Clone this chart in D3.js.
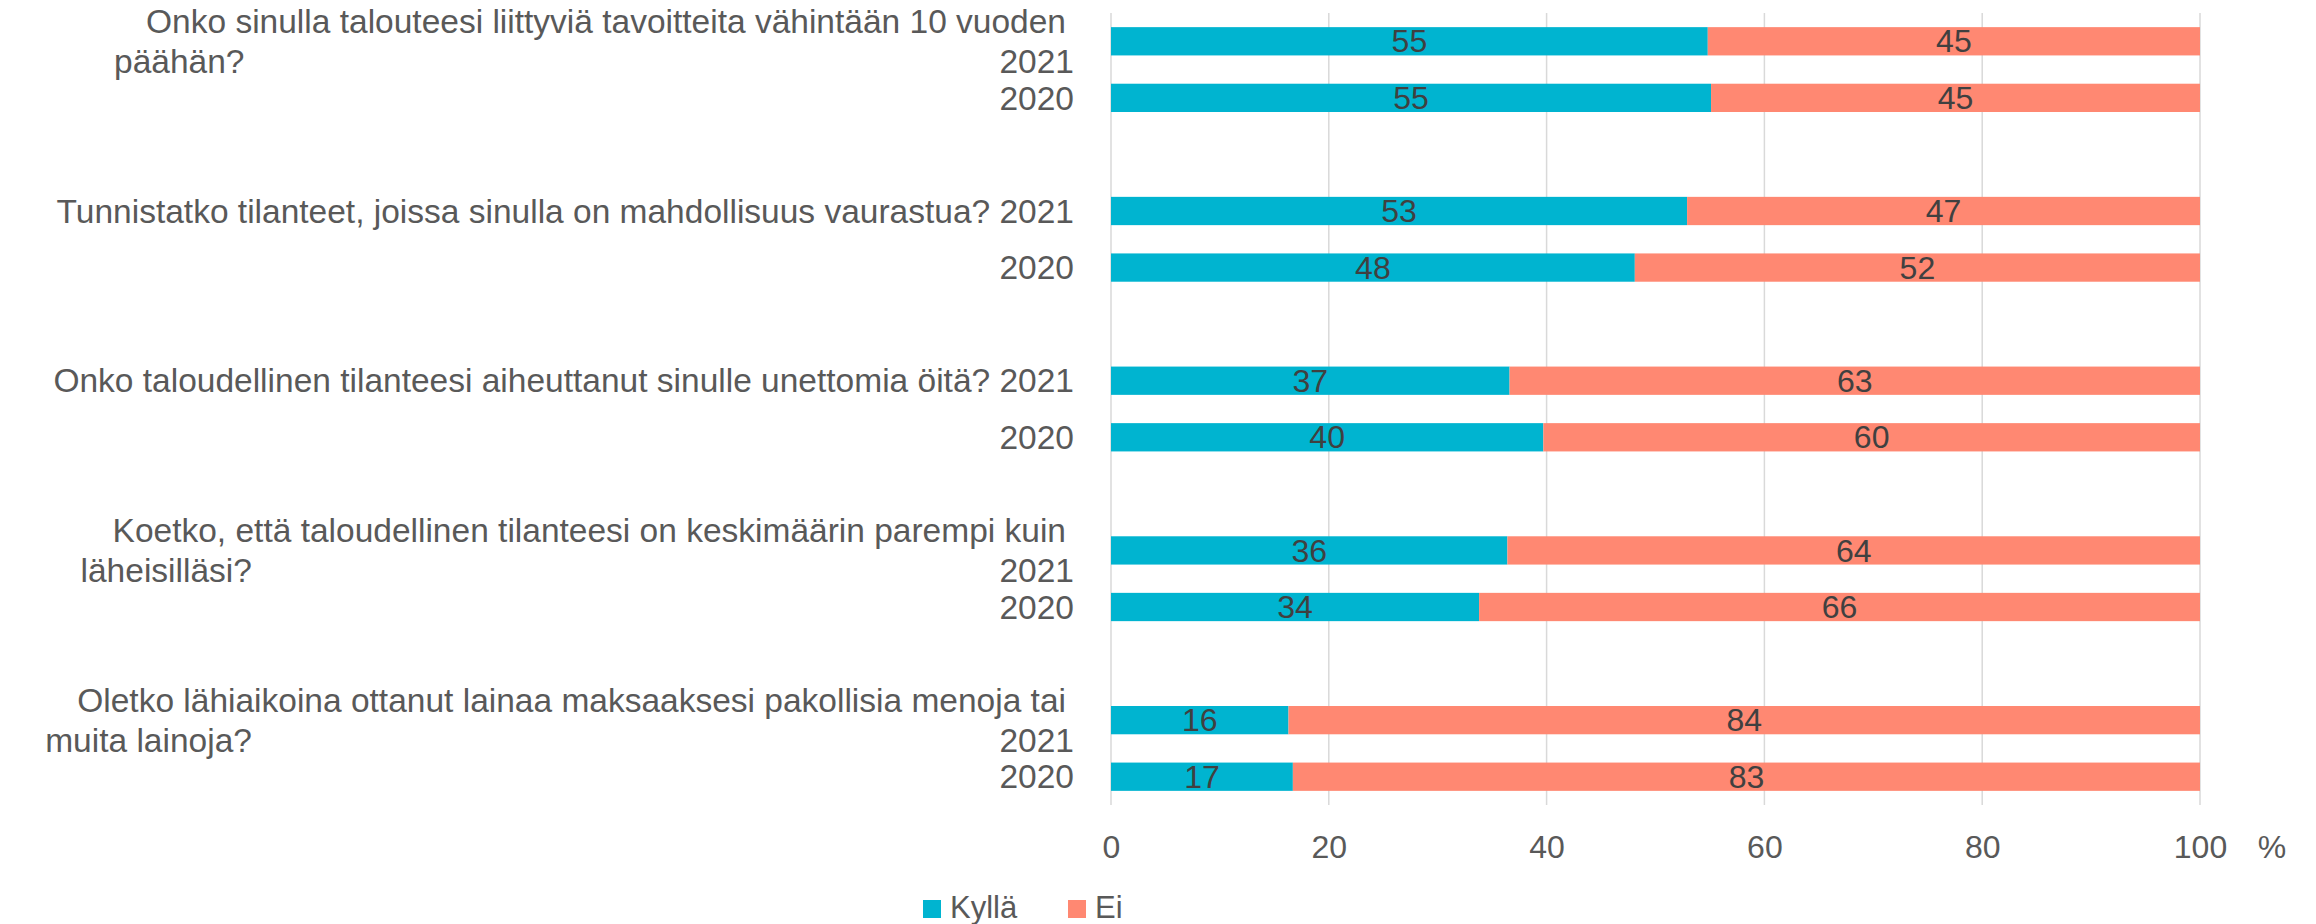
<!DOCTYPE html>
<html>
<head>
<meta charset="utf-8">
<script src="https://cdn.jsdelivr.net/npm/d3@7"></script>
<style>
  body { margin: 0; background: #fff; }
  svg text { font-family: "Liberation Sans", Arial, sans-serif; }
</style>
</head>
<body>
<svg id="chart" width="2316" height="924"></svg>
<script>
// questions, each split into the lines it wraps to
var questions = [
  ["Onko sinulla talouteesi liittyviä tavoitteita vähintään 10 vuoden", "päähän?"],
  ["Tunnistatko tilanteet, joissa sinulla on mahdollisuus vaurastua?"],
  ["Onko taloudellinen tilanteesi aiheuttanut sinulle unettomia öitä?"],
  ["Koetko, että taloudellinen tilanteesi on keskimäärin parempi kuin", "läheisilläsi?"],
  ["Oletko lähiaikoina ottanut lainaa maksaaksesi pakollisia menoja tai", "muita lainoja?"]
];
var years = ["2021", "2020"];
var series = ["Kyllä", "Ei"];

// % answers per question
var kylla2021 = [54.8, 52.9, 36.6, 36.4, 16.3];
var ei2021 = [45.2, 47.1, 63.4, 63.6, 83.7];
var kylla2020 = [55.1, 48.1, 39.7, 33.8, 16.7];
var ei2020 = [44.9, 51.9, 60.3, 66.2, 83.3];

var xTicks = [0, 20, 40, 60, 80, 100];

var colors = { "Kyllä": "#00b4d0", "Ei": "#ff8872" };
var textGray = "#595959";

var svg = d3.select("#chart");
var plotLeft = 1111, plotRight = 2200, plotTop = 13, plotBottom = 805;

// rows: 2021, 2020, gap ... (no gap after the last question)
var rows = [];
questions.forEach(function (q, i) {
  rows.push(i + "-2021", i + "-2020");
  if (i < questions.length - 1) rows.push(i + "-gap");
});

var y = d3.scaleBand().domain(rows).range([plotTop, plotBottom])
  .paddingInner(0.5).paddingOuter(0.25);
var x = d3.scaleLinear().domain([0, 100]).range([plotLeft, plotRight]);

// gridlines
svg.append("g")
  .selectAll("line")
  .data(xTicks)
  .enter().append("line")
  .attr("x1", function (d) { return x(d); })
  .attr("x2", function (d) { return x(d); })
  .attr("y1", plotTop).attr("y2", plotBottom)
  .attr("stroke", "#d9d9d9")
  .attr("stroke-width", 1.5);

// build rows of stacked data
var barData = [];
questions.forEach(function (q, i) {
  barData.push({ key: i + "-2021", values: [kylla2021[i], ei2021[i]] });
  barData.push({ key: i + "-2020", values: [kylla2020[i], ei2020[i]] });
});

var segs = [];
barData.forEach(function (row) {
  var acc = 0;
  row.values.forEach(function (v, j) {
    segs.push({ key: row.key, name: series[j], x0: acc, x1: acc + v, v: v });
    acc += v;
  });
});

var barG = svg.append("g");
barG.selectAll("rect")
  .data(segs)
  .enter().append("rect")
  .attr("x", function (d) { return x(d.x0); })
  .attr("width", function (d) { return x(d.x1) - x(d.x0); })
  .attr("y", function (d) { return y(d.key); })
  .attr("height", y.bandwidth())
  .attr("fill", function (d) { return colors[d.name]; });

barG.selectAll("text")
  .data(segs)
  .enter().append("text")
  .attr("x", function (d) { return (x(d.x0) + x(d.x1)) / 2; })
  .attr("y", function (d) { return y(d.key) + y.bandwidth() / 2; })
  .attr("dy", "0.35em")
  .attr("text-anchor", "middle")
  .attr("font-size", 32)
  .attr("fill", "#404040")
  .text(function (d) { return Math.round(d.v); });

// category labels
var labelRight = 1074;
var lab = svg.append("g").attr("font-size", 33.5).attr("fill", textGray);

questions.forEach(function (q, i) {
  var c21 = y(i + "-2021") + y.bandwidth() / 2;
  var c20 = y(i + "-2020") + y.bandwidth() / 2;
  if (q.length === 1) {
    lab.append("text")
      .attr("x", labelRight).attr("y", c21).attr("dy", "0.35em")
      .attr("text-anchor", "end")
      .text(q[0] + " " + years[0]);
  } else {
    var line1 = lab.append("text")
      .attr("x", labelRight - 8).attr("y", c21 - 19.8).attr("dy", "0.35em")
      .attr("text-anchor", "end")
      .text(q[0]);
    var w = line1.node().getComputedTextLength();
    lab.append("text")
      .attr("x", Math.max(28, labelRight - 8 - w - 32)).attr("y", c21 + 19.8).attr("dy", "0.35em")
      .text(q[1]);
    lab.append("text")
      .attr("x", labelRight).attr("y", c21 + 19.8).attr("dy", "0.35em")
      .attr("text-anchor", "end")
      .text(years[0]);
  }
  lab.append("text")
    .attr("x", labelRight).attr("y", c20).attr("dy", "0.35em")
    .attr("text-anchor", "end")
    .text(years[1]);
});

// x axis labels
var xAxis = d3.axisBottom(x).tickValues(xTicks).tickSize(0).tickPadding(0);
var ax = svg.append("g")
  .attr("transform", "translate(0," + 835 + ")")
  .call(xAxis);
ax.select(".domain").remove();
ax.selectAll("text")
  .attr("font-size", 32)
  .attr("font-family", "Liberation Sans, Arial, sans-serif")
  .attr("fill", textGray)
  .attr("dy", "0.71em");

svg.append("text")
  .attr("x", 2272).attr("y", 835).attr("dy", "0.71em")
  .attr("text-anchor", "middle")
  .attr("font-size", 32).attr("fill", textGray)
  .text("%");

// legend
var legend = svg.append("g").attr("transform", "translate(923,900)");
var legX = [0, 145];
series.forEach(function (s, i) {
  legend.append("rect")
    .attr("x", legX[i]).attr("y", 0)
    .attr("width", 18).attr("height", 18)
    .attr("fill", colors[s]);
  legend.append("text")
    .attr("x", legX[i] + 27).attr("y", 18)
    .attr("font-size", 31).attr("fill", textGray)
    .text(s);
});
</script>
</body>
</html>
